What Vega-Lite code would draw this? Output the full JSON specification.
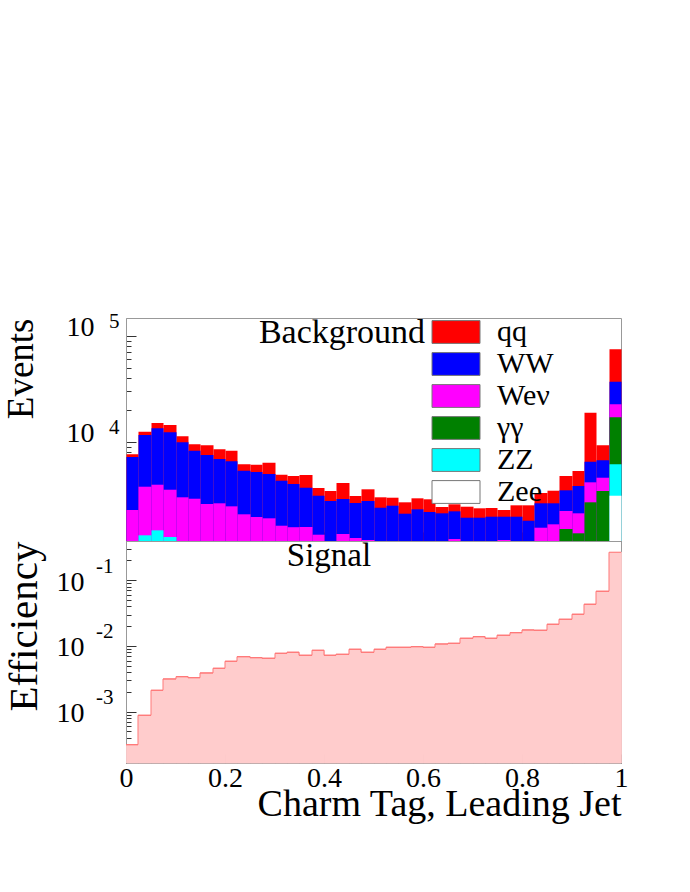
{
  "$schema": "https://vega.github.io/schema/vega-lite/v6.json",
  "padding": {"left": 1, "top": 310, "right": 0, "bottom": 0},
  "background": "white",
  "spacing": 0,
  "bounds": "flush",
  "config": {
    "view": {"stroke": "#999999", "strokeWidth": 1},
    "font": "Liberation Serif",
    "legend": {"labelFont": "Liberation Serif", "titleFont": "Liberation Serif"},
    "text": {"font": "Liberation Serif"},
    "axis": {"labelFont": "Liberation Serif", "titleFont": "Liberation Serif", "labelColor": "#000000", "titleColor": "#000000", "titleFontWeight": "normal", "domainColor": "#999999", "tickColor": "#333333", "grid": false, "labelOverlap": false, "labelFlush": false, "labelBound": false}
  },
  "datasets": {
    "bg": [
      {"p":"qq","lo":0,"hi":0.025,"v":7600},{"p":"qq","lo":0.025,"hi":0.05,"v":12434},{"p":"qq","lo":0.05,"hi":0.075,"v":15030},{"p":"qq","lo":0.075,"hi":0.1,"v":14388},{"p":"qq","lo":0.1,"hi":0.125,"v":11248},{"p":"qq","lo":0.125,"hi":0.15,"v":9450},{"p":"qq","lo":0.15,"hi":0.175,"v":9246},{"p":"qq","lo":0.175,"hi":0.2,"v":8475},{"p":"qq","lo":0.2,"hi":0.225,"v":8220},{"p":"qq","lo":0.225,"hi":0.25,"v":6110},
      {"p":"qq","lo":0.25,"hi":0.275,"v":6057},{"p":"qq","lo":0.275,"hi":0.3,"v":6328},{"p":"qq","lo":0.3,"hi":0.325,"v":4873},{"p":"qq","lo":0.325,"hi":0.35,"v":4736},{"p":"qq","lo":0.35,"hi":0.375,"v":4842},{"p":"qq","lo":0.375,"hi":0.4,"v":3648},{"p":"qq","lo":0.4,"hi":0.425,"v":3417},{"p":"qq","lo":0.425,"hi":0.45,"v":4067},{"p":"qq","lo":0.45,"hi":0.475,"v":3064},{"p":"qq","lo":0.475,"hi":0.5,"v":3546},
      {"p":"qq","lo":0.5,"hi":0.525,"v":2979},{"p":"qq","lo":0.525,"hi":0.55,"v":2953},{"p":"qq","lo":0.55,"hi":0.575,"v":2671},{"p":"qq","lo":0.575,"hi":0.6,"v":2914},{"p":"qq","lo":0.6,"hi":0.625,"v":2852},{"p":"qq","lo":0.625,"hi":0.65,"v":2411},{"p":"qq","lo":0.65,"hi":0.675,"v":2557},{"p":"qq","lo":0.675,"hi":0.7,"v":2427},{"p":"qq","lo":0.7,"hi":0.725,"v":2344},{"p":"qq","lo":0.725,"hi":0.75,"v":2359},
      {"p":"qq","lo":0.75,"hi":0.775,"v":2258},{"p":"qq","lo":0.775,"hi":0.8,"v":2502},{"p":"qq","lo":0.8,"hi":0.825,"v":2502},{"p":"qq","lo":0.825,"hi":0.85,"v":3271},{"p":"qq","lo":0.85,"hi":0.875,"v":3439},{"p":"qq","lo":0.875,"hi":0.9,"v":4736},{"p":"qq","lo":0.9,"hi":0.925,"v":5283},{"p":"qq","lo":0.925,"hi":0.95,"v":18817},{"p":"qq","lo":0.95,"hi":0.975,"v":9246},{"p":"qq","lo":0.975,"hi":1,"v":74820},
      {"p":"WW","lo":0,"hi":0.025,"v":7165},{"p":"WW","lo":0.025,"hi":0.05,"v":11571},{"p":"WW","lo":0.05,"hi":0.075,"v":13393},{"p":"WW","lo":0.075,"hi":0.1,"v":12273},{"p":"WW","lo":0.1,"hi":0.125,"v":9870},{"p":"WW","lo":0.125,"hi":0.15,"v":8220},{"p":"WW","lo":0.15,"hi":0.175,"v":7484},{"p":"WW","lo":0.175,"hi":0.2,"v":6861},{"p":"WW","lo":0.2,"hi":0.225,"v":6526},{"p":"WW","lo":0.225,"hi":0.25,"v":5316},
      {"p":"WW","lo":0.25,"hi":0.275,"v":5167},{"p":"WW","lo":0.275,"hi":0.3,"v":4947},{"p":"WW","lo":0.3,"hi":0.325,"v":4276},{"p":"WW","lo":0.325,"hi":0.35,"v":3980},{"p":"WW","lo":0.35,"hi":0.375,"v":3671},{"p":"WW","lo":0.375,"hi":0.4,"v":3083},{"p":"WW","lo":0.4,"hi":0.425,"v":2748},{"p":"WW","lo":0.425,"hi":0.45,"v":2871},{"p":"WW","lo":0.45,"hi":0.475,"v":2630},{"p":"WW","lo":0.475,"hi":0.5,"v":2748},
      {"p":"WW","lo":0.5,"hi":0.525,"v":2374},{"p":"WW","lo":0.525,"hi":0.55,"v":2480},{"p":"WW","lo":0.55,"hi":0.575,"v":2084},{"p":"WW","lo":0.575,"hi":0.6,"v":2293},{"p":"WW","lo":0.6,"hi":0.625,"v":2162},{"p":"WW","lo":0.625,"hi":0.65,"v":2102},{"p":"WW","lo":0.65,"hi":0.675,"v":2195},{"p":"WW","lo":0.675,"hi":0.7,"v":1910},{"p":"WW","lo":0.7,"hi":0.725,"v":1910},{"p":"WW","lo":0.725,"hi":0.75,"v":1952},
      {"p":"WW","lo":0.75,"hi":0.775,"v":1952},{"p":"WW","lo":0.775,"hi":0.8,"v":1952},{"p":"WW","lo":0.8,"hi":0.825,"v":1789},{"p":"WW","lo":0.825,"hi":0.85,"v":2614},{"p":"WW","lo":0.85,"hi":0.875,"v":2614},{"p":"WW","lo":0.875,"hi":0.9,"v":3469},{"p":"WW","lo":0.9,"hi":0.925,"v":3810},{"p":"WW","lo":0.925,"hi":0.95,"v":6469},{"p":"WW","lo":0.95,"hi":0.975,"v":6668},{"p":"WW","lo":0.975,"hi":1,"v":36950},
      {"p":"Weν","lo":0,"hi":0.025,"v":2258},{"p":"Weν","lo":0.025,"hi":0.05,"v":3752},{"p":"Weν","lo":0.05,"hi":0.075,"v":3919},{"p":"Weν","lo":0.075,"hi":0.1,"v":3514},{"p":"Weν","lo":0.1,"hi":0.125,"v":2979},{"p":"Weν","lo":0.125,"hi":0.15,"v":2888},{"p":"Weν","lo":0.15,"hi":0.175,"v":2574},{"p":"Weν","lo":0.175,"hi":0.2,"v":2614},{"p":"Weν","lo":0.2,"hi":0.225,"v":2447},{"p":"Weν","lo":0.225,"hi":0.25,"v":2057},
      {"p":"Weν","lo":0.25,"hi":0.275,"v":1939},{"p":"Weν","lo":0.275,"hi":0.3,"v":1885},{"p":"Weν","lo":0.3,"hi":0.325,"v":1604},{"p":"Weν","lo":0.325,"hi":0.35,"v":1553},{"p":"Weν","lo":0.35,"hi":0.375,"v":1560},{"p":"Weν","lo":0.375,"hi":0.4,"v":1319},{"p":"Weν","lo":0.425,"hi":0.45,"v":1339},{"p":"Weν","lo":0.45,"hi":0.475,"v":1227},{"p":"Weν","lo":0.475,"hi":0.5,"v":1175},{"p":"Weν","lo":0.65,"hi":0.675,"v":1201},
      {"p":"Weν","lo":0.75,"hi":0.775,"v":1175},{"p":"Weν","lo":0.825,"hi":0.85,"v":1536},{"p":"Weν","lo":0.85,"hi":0.875,"v":1654},{"p":"Weν","lo":0.875,"hi":0.9,"v":2210},{"p":"Weν","lo":0.9,"hi":0.925,"v":2102},{"p":"Weν","lo":0.925,"hi":0.95,"v":4129},{"p":"Weν","lo":0.95,"hi":0.975,"v":4564},{"p":"Weν","lo":0.975,"hi":1,"v":22585},
      {"p":"γγ","lo":0.875,"hi":0.9,"v":1493},{"p":"γγ","lo":0.9,"hi":0.925,"v":1360},{"p":"γγ","lo":0.925,"hi":0.95,"v":2671},{"p":"γγ","lo":0.95,"hi":0.975,"v":3417},{"p":"γγ","lo":0.975,"hi":1,"v":17014},
      {"p":"ZZ","lo":0.025,"hi":0.05,"v":1302},{"p":"ZZ","lo":0.05,"hi":0.075,"v":1451},{"p":"ZZ","lo":0.075,"hi":0.1,"v":1254},{"p":"ZZ","lo":0.975,"hi":1,"v":6110},
      {"p":"Zee","lo":0.975,"hi":1,"v":3083}
    ],
    "sig": [
      {"lo":0,"hi":0.025,"v":0.0003146},{"lo":0.025,"hi":0.05,"v":0.0008814},{"lo":0.05,"hi":0.075,"v":0.002117},{"lo":0.075,"hi":0.1,"v":0.003146},{"lo":0.1,"hi":0.125,"v":0.00341},{"lo":0.125,"hi":0.15,"v":0.003293},{"lo":0.15,"hi":0.175,"v":0.003882},{"lo":0.175,"hi":0.2,"v":0.004575},{"lo":0.2,"hi":0.225,"v":0.00585},{"lo":0.225,"hi":0.25,"v":0.00687},
      {"lo":0.25,"hi":0.275,"v":0.006637},{"lo":0.275,"hi":0.3,"v":0.0065},{"lo":0.3,"hi":0.325,"v":0.00774},{"lo":0.325,"hi":0.35,"v":0.00802},{"lo":0.35,"hi":0.375,"v":0.00722},{"lo":0.375,"hi":0.4,"v":0.0086},{"lo":0.4,"hi":0.425,"v":0.00722},{"lo":0.425,"hi":0.45,"v":0.007475},{"lo":0.45,"hi":0.475,"v":0.00891},{"lo":0.475,"hi":0.5,"v":0.00802},
      {"lo":0.5,"hi":0.525,"v":0.00891},{"lo":0.525,"hi":0.55,"v":0.00955},{"lo":0.55,"hi":0.575,"v":0.00955},{"lo":0.575,"hi":0.6,"v":0.00976},{"lo":0.6,"hi":0.625,"v":0.00955},{"lo":0.625,"hi":0.65,"v":0.01072},{"lo":0.65,"hi":0.675,"v":0.01099},{"lo":0.675,"hi":0.7,"v":0.0131},{"lo":0.7,"hi":0.725,"v":0.01385},{"lo":0.725,"hi":0.75,"v":0.0131},
      {"lo":0.75,"hi":0.775,"v":0.01455},{"lo":0.775,"hi":0.8,"v":0.01594},{"lo":0.8,"hi":0.825,"v":0.01752},{"lo":0.825,"hi":0.85,"v":0.01734},{"lo":0.85,"hi":0.875,"v":0.0214},{"lo":0.875,"hi":0.9,"v":0.0255},{"lo":0.9,"hi":0.925,"v":0.03037},{"lo":0.925,"hi":0.95,"v":0.04313},{"lo":0.95,"hi":0.975,"v":0.068},{"lo":0.975,"hi":1,"v":0.2668}
    ]
  },
  "vconcat": [
    {
      "width": 495,
      "height": 223,
      "resolve": {"axis": {"y": "independent", "x": "independent"}},
      "layer": [
        {
          "data": {"name": "bg"},
          "mark": {"type": "bar", "strokeWidth": 0, "binSpacing": 0},
          "encoding": {
            "x": {"field": "lo", "type": "quantitative", "bin": "binned", "scale": {"domain": [0, 1], "nice": false, "round": true},
                  "axis": {"title": null, "values": [0, 0.2, 0.4, 0.6, 0.8, 1], "labels": false, "tickSize": -9, "domainColor": "#999999"}},
            "x2": {"field": "hi"},
            "y": {"field": "v", "type": "quantitative", "stack": null, "scale": {"type": "log", "domain": [1150, 148000], "nice": false},
                  "axis": {"orient": "left", "title": "Events", "titleFontSize": 37, "titleAnchor": "end", "titlePadding": 26,
                           "values": [2000,3000,4000,5000,6000,7000,8000,9000,10000,20000,30000,40000,50000,60000,70000,80000,90000,100000],
                           "labelExpr": "datum.value == 10000 || datum.value == 100000 ? '10' : ''",
                           "tickSize": {"condition": {"test": "datum.value == 10000 || datum.value == 100000", "value": -10}, "value": -5},
                           "labelFontSize": 28, "labelPadding": 42, "labelOffset": -8}},
            "y2": {"datum": 1150},
            "color": {"field": "p", "type": "nominal",
                      "scale": {"domain": ["qq", "WW", "Weν", "γγ", "ZZ", "Zee"], "range": ["#ff0000", "#0000ff", "#ff00ff", "#008000", "#00ffff", "#ffffff"]},
                      "legend": {"orient": "none", "legendX": 315, "legendY": -1, "title": null, "padding": 0,
                                 "symbolType": "M-2,-0.95H2V0.95H-2Z", "symbolSize": 576, "symbolStrokeColor": "#777777", "symbolStrokeWidth": 1, "symbolOpacity": 1,
                                 "labelFont": "Liberation Serif", "labelFontSize": 30, "labelOffset": 26, "rowPadding": 2, "labelLimit": 0}}
          }
        },
        {
          "data": {"name": "bg"},
          "mark": {"type": "point", "opacity": 0},
          "encoding": {
            "x": {"field": "lo", "type": "quantitative", "axis": null},
            "y": {"field": "v", "type": "quantitative", "scale": {"type": "log", "domain": [1150, 148000], "nice": false},
                  "axis": {"orient": "left", "title": null, "values": [10000, 100000], "ticks": false, "domain": false,
                           "labelExpr": "datum.value == 100000 ? '5' : '4'", "labelFontSize": 21, "labelPadding": 7, "labelOffset": -14}}
          }
        },
        {
          "data": {"values": [{"t": "Background"}]},
          "mark": {"type": "text", "font": "Liberation Serif", "fontSize": 34, "align": "center", "baseline": "alphabetic", "color": "#000000"},
          "encoding": {
            "x": {"datum": 0.437, "type": "quantitative", "axis": null},
            "y": {"datum": 85300, "type": "quantitative", "axis": null},
            "text": {"field": "t"}
          }
        }
      ]
    },
    {
      "width": 495,
      "height": 222,
      "resolve": {"axis": {"y": "independent", "x": "independent"}},
      "layer": [
        {
          "data": {"name": "sig"},
          "mark": {"type": "bar", "fill": "#ffcccc", "stroke": "#ffcccc", "strokeWidth": 0.8, "binSpacing": 0},
          "encoding": {
            "x": {"field": "lo", "type": "quantitative", "bin": "binned", "scale": {"domain": [0, 1], "nice": false, "round": true},
                  "axis": {"title": "Charm Tag, Leading Jet", "titleFontSize": 38, "titleAnchor": "end", "titleAlign": "right", "titlePadding": -7,
                           "values": [0, 0.2, 0.4, 0.6, 0.8, 1], "format": "~g", "tickSize": -9, "labelFontSize": 28, "labelPadding": 10}},
            "x2": {"field": "hi"},
            "y": {"field": "v", "type": "quantitative", "scale": {"type": "log", "domain": [0.0001656, 0.396], "nice": false},
                  "axis": {"orient": "left", "title": "Efficiency", "titleFontSize": 41, "titleAnchor": "end", "titlePadding": 11,
                           "values": [0.0002,0.0003,0.0004,0.0005,0.0006,0.0007,0.0008,0.0009,0.001,0.002,0.003,0.004,0.005,0.006,0.007,0.008,0.009,0.01,0.02,0.03,0.04,0.05,0.06,0.07,0.08,0.09,0.1,0.2,0.3],
                           "labelExpr": "datum.value == 0.1 || datum.value == 0.01 || datum.value == 0.001 ? '10' : ''",
                           "tickSize": {"condition": {"test": "datum.value == 0.1 || datum.value == 0.01 || datum.value == 0.001", "value": -10}, "value": -5},
                           "labelFontSize": 28, "labelPadding": 52, "labelOffset": 2}},
            "y2": {"datum": 0.0001656}
          }
        },
        {
          "data": {"name": "sig"},
          "mark": {"type": "line", "interpolate": "step-after", "color": "#ff7777", "strokeWidth": 1},
          "encoding": {
            "x": {"field": "lo", "type": "quantitative", "axis": null},
            "y": {"field": "v", "type": "quantitative", "axis": null}
          }
        },
        {
          "data": {"name": "sig"},
          "mark": {"type": "rule", "color": "#ff7777", "strokeWidth": 1},
          "encoding": {
            "x": {"field": "lo", "type": "quantitative", "axis": null},
            "x2": {"field": "hi"},
            "y": {"field": "v", "type": "quantitative", "axis": null}
          }
        },
        {
          "data": {"name": "sig"},
          "mark": {"type": "point", "opacity": 0},
          "encoding": {
            "x": {"field": "lo", "type": "quantitative", "axis": null},
            "y": {"field": "v", "type": "quantitative", "scale": {"type": "log", "domain": [0.0001656, 0.396], "nice": false},
                  "axis": {"orient": "left", "title": null, "values": [0.001, 0.01, 0.1], "ticks": false, "domain": false,
                           "labelExpr": "datum.value == 0.1 ? '-1' : datum.value == 0.01 ? '-2' : '-3'", "labelFontSize": 21, "labelPadding": 13, "labelOffset": -14}}
          }
        },
        {
          "data": {"values": [{"t": "Signal"}]},
          "mark": {"type": "text", "font": "Liberation Serif", "fontSize": 33, "align": "center", "baseline": "alphabetic", "color": "#000000"},
          "encoding": {
            "x": {"datum": 0.41, "type": "quantitative", "axis": null},
            "y": {"datum": 0.165, "type": "quantitative", "axis": null},
            "text": {"field": "t"}
          }
        }
      ]
    }
  ]
}
